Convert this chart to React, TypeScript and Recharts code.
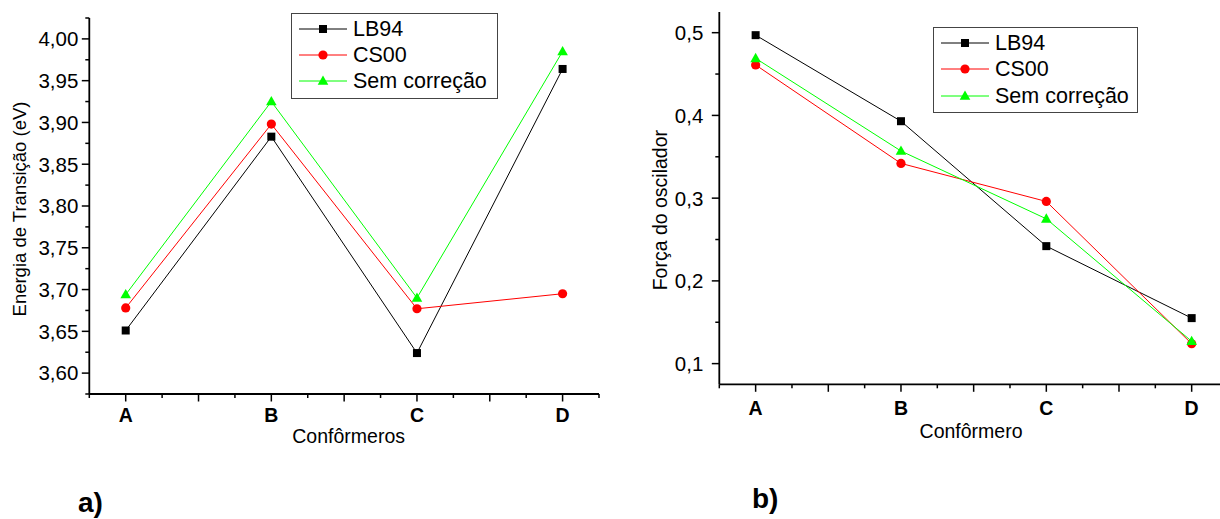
import React from 'react';
import { LineChart, Line, XAxis, YAxis } from 'recharts';

// conformers on the x axis (positions 1..4)
const conformers = ['A', 'B', 'C', 'D'];

// transition energy (eV)
const energyLB94 = [3.651, 3.883, 3.624, 3.964];
const energyCS00 = [3.678, 3.898, 3.677, 3.695];
const energySem = [3.694, 3.925, 3.69, 3.985];

// oscillator strength
const oscLB94 = [0.497, 0.393, 0.242, 0.155];
const oscCS00 = [0.461, 0.342, 0.296, 0.124];
const oscSem = [0.469, 0.357, 0.275, 0.127];

const xTicks = [0.75, 1, 1.25, 1.5, 1.75, 2, 2.25, 2.5, 2.75, 3, 3.25, 3.5, 3.75, 4, 4.25];
const energyTicks = [
  3.575, 3.6, 3.625, 3.65, 3.675, 3.7, 3.725, 3.75, 3.775, 3.8,
  3.825, 3.85, 3.875, 3.9, 3.925, 3.95, 3.975, 4.0, 4.025,
];
const oscTicks = [0.1, 0.15, 0.2, 0.25, 0.3, 0.35, 0.4, 0.45, 0.5];

const series = [
  { key: 'lb94', name: 'LB94', color: '#000000', shape: 'square' },
  { key: 'cs00', name: 'CS00', color: '#ff0000', shape: 'circle' },
  { key: 'sem', name: 'Sem correção', color: '#00ff00', shape: 'triangle' },
];

const energyData = conformers.map((_, i) => ({
  pos: i + 1,
  lb94: energyLB94[i],
  cs00: energyCS00[i],
  sem: energySem[i],
}));

const oscData = conformers.map((_, i) => ({
  pos: i + 1,
  lb94: oscLB94[i],
  cs00: oscCS00[i],
  sem: oscSem[i],
}));

const FONT = '"Liberation Sans", Arial, sans-serif';

function Marker({ cx, cy, shape, color }: any) {
  if (cx == null || cy == null) return null;
  if (shape === 'square') {
    return <rect x={cx - 4} y={cy - 4} width={8} height={8} fill={color} />;
  }
  if (shape === 'circle') {
    return <circle cx={cx} cy={cy} r={4.6} fill={color} />;
  }
  return (
    <polygon
      points={`${cx},${cy - 5.5} ${cx - 5.3},${cy + 3.8} ${cx + 5.3},${cy + 3.8}`}
      fill={color}
    />
  );
}

// bottom axis tick: long tick every half step, short every quarter, letter on integers
const XTick = ({ x, y, payload, labelDy }: any) => {
  const v = payload.value;
  const major = Number.isInteger(Math.round(v * 1000) / 500);
  const label = Number.isInteger(v) ? conformers[v - 1] : null;
  return (
    <g>
      <line x1={x} x2={x} y1={y} y2={y + (major ? 7.5 : 4)} stroke="#000" strokeWidth={1.5} />
      {label && (
        <text
          x={x}
          y={y + labelDy}
          textAnchor="middle"
          fontSize={19.5}
          fontWeight="bold"
          fontFamily={FONT}
          fill="#000"
        >
          {label}
        </text>
      )}
    </g>
  );
};

const YTick = ({ x, y, payload, step, digits, gap }: any) => {
  const v = payload.value;
  const r = Math.round(v * 1000) / Math.round(step * 1000);
  const major = Math.abs(r - Math.round(r)) < 1e-6;
  return (
    <g>
      <line x1={x} x2={x - (major ? 7.5 : 4)} y1={y} y2={y} stroke="#000" strokeWidth={1.5} />
      {major && (
        <text
          x={x - gap}
          y={y}
          dy="0.36em"
          textAnchor="end"
          fontSize={20.5}
          fontFamily={FONT}
          fill="#000"
        >
          {v.toFixed(digits).replace('.', ',')}
        </text>
      )}
    </g>
  );
};

function LegendBox({ left, top, width, height, rowTop, rowStep }: any) {
  return (
    <div
      style={{
        position: 'absolute',
        left,
        top,
        width,
        height,
        border: '1.5px solid #444',
        boxSizing: 'border-box',
        background: '#fff',
      }}
    >
      {series.map((s, i) => (
        <div
          key={s.key}
          style={{
            position: 'absolute',
            left: 6.5,
            top: rowTop + i * rowStep,
            height: 26,
            display: 'flex',
            alignItems: 'center',
            whiteSpace: 'nowrap',
          }}
        >
          <svg width={48} height={26} style={{ display: 'block' }}>
            <line x1={0} x2={48} y1={13} y2={13} stroke={s.color} strokeWidth={1} />
            <Marker cx={24} cy={13} shape={s.shape} color={s.color} />
          </svg>
          <span style={{ marginLeft: 6.5, fontSize: 21.5, fontFamily: FONT, color: '#000', lineHeight: '26px' }}>
            {s.name}
          </span>
        </div>
      ))}
    </div>
  );
}

function Panel({
  data,
  left,
  top,
  margin,
  yAxisWidth,
  xAxisHeight,
  yDomain,
  yTicks,
  yStep,
  yDigits,
  yGap,
  yLabel,
  yLabelSize,
  yLabelOffset,
  yLabelDy,
  xLabel,
  xLabelOffset,
  xLabelDx,
  xLabelDy,
}: any) {
  return (
    <div style={{ position: 'absolute', left, top }}>
      <LineChart width={620} height={460} data={data} margin={margin}>
        <XAxis
          dataKey="pos"
          type="number"
          domain={[0.75, 4.25]}
          ticks={xTicks}
          interval={0}
          height={xAxisHeight}
          tickSize={0}
          tickMargin={0}
          tickLine={false}
          axisLine={{ stroke: '#000', strokeWidth: 1.8 }}
          tick={(p: any) => <XTick {...p} labelDy={xLabelDy} />}
          label={{
            value: xLabel,
            position: 'insideBottom',
            offset: xLabelOffset,
            dx: xLabelDx,
            fontSize: 19.5,
            fontFamily: FONT,
            fill: '#000',
          }}
        />
        <YAxis
          type="number"
          domain={yDomain}
          ticks={yTicks}
          interval={0}
          width={yAxisWidth}
          tickSize={0}
          tickMargin={0}
          tickLine={false}
          axisLine={{ stroke: '#000', strokeWidth: 1.8 }}
          tick={(p: any) => <YTick {...p} step={yStep} digits={yDigits} gap={yGap} />}
          label={{
            value: yLabel,
            angle: -90,
            position: 'insideLeft',
            offset: yLabelOffset,
            dy: yLabelDy,
            fontSize: yLabelSize,
            fontFamily: FONT,
            fill: '#000',
            style: { textAnchor: 'middle' },
          }}
        />
        {series.map((s) => (
          <Line
            key={s.key}
            type="linear"
            dataKey={s.key}
            name={s.name}
            stroke={s.color}
            strokeWidth={1}
            isAnimationActive={false}
            activeDot={false}
            dot={(p: any) => (
              <Marker key={`${s.key}-${p.index}`} cx={p.cx} cy={p.cy} shape={s.shape} color={s.color} />
            )}
          />
        ))}
      </LineChart>
    </div>
  );
}

export default function App() {
  return (
    <div
      style={{
        position: 'absolute',
        left: 0,
        top: 0,
        width: 1220,
        height: 519,
        overflow: 'hidden',
        background: '#fff',
        fontFamily: FONT,
      }}
    >
      <Panel
        data={energyData}
        left={0}
        top={0}
        margin={{ top: 18, right: 21, bottom: 0, left: 0 }}
        yAxisWidth={89.3}
        xAxisHeight={66}
        yDomain={[3.575, 4.025]}
        yTicks={energyTicks}
        yStep={0.05}
        yDigits={2}
        yGap={11}
        yLabel="Energia de Transição (eV)"
        yLabelSize={18.5}
        yLabelOffset={19}
        yLabelDy={3}
        xLabel="Confôrmeros"
        xLabelOffset={17}
        xLabelDx={4.5}
        xLabelDy={27.7}
      />
      <LegendBox left={291} top={13.3} width={206.7} height={86} rowTop={2.2} rowStep={26} />

      <Panel
        data={oscData}
        left={630}
        top={0}
        margin={{ top: 12, right: 22, bottom: 0, left: 0 }}
        yAxisWidth={89.3}
        xAxisHeight={75.7}
        yDomain={[0.075, 0.525]}
        yTicks={oscTicks}
        yStep={0.1}
        yDigits={1}
        yGap={16}
        yLabel="Força do oscilador"
        yLabelSize={19.5}
        yLabelOffset={30.5}
        yLabelDy={12}
        xLabel="Confôrmero"
        xLabelOffset={22}
        xLabelDx={-2.6}
        xLabelDy={30.7}
      />
      <LegendBox left={933} top={27.3} width={204.7} height={85.4} rowTop={1.5} rowStep={26.7} />

      <svg
        width={1220}
        height={519}
        style={{ position: 'absolute', left: 0, top: 0, pointerEvents: 'none' }}
      >
        <text x={78} y={512} fontSize={28} fontWeight="bold" fontFamily={FONT} fill="#000">
          a)
        </text>
        <text x={752} y={508} fontSize={28} fontWeight="bold" fontFamily={FONT} fill="#000">
          b)
        </text>
      </svg>
    </div>
  );
}
